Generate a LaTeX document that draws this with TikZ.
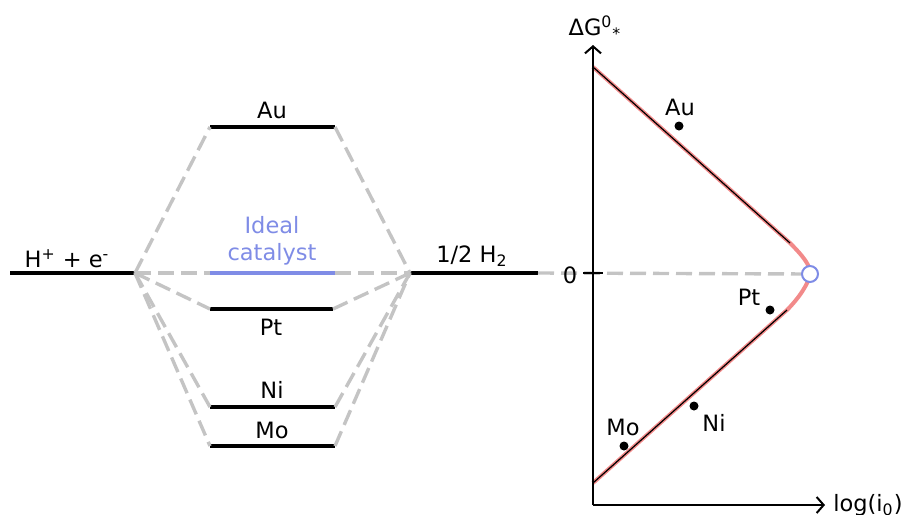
\documentclass[tikz,border=0pt]{standalone}
\usepackage{fontspec}
\setmainfont{DejaVu Sans}
\usetikzlibrary{arrows.meta}
\definecolor{linkgrey}{HTML}{C4C4C4}
\definecolor{idealblue}{HTML}{7F8CE6}
\definecolor{volcred}{HTML}{F28A8A}
\begin{document}
\begin{tikzpicture}[x=0.5pt,y=-0.5pt,>={Straight Barb[length=3.5pt,width=8pt]},
	every node/.style={font=\fontsize{11.25}{13.5}\selectfont,inner sep=0pt},
	level/.style={line width=2pt},
	link/.style={linkgrey,line width=1.7pt,dash pattern=on 8pt off 3.5pt},
	axis/.style={line width=1pt,->},
	dot/.style={circle,fill,inner sep=0pt,minimum size=4.5pt}]
	\useasboundingbox(0,0)rectangle(907,515);
	% energy levels
	\draw[level](10,273)coordinate(he-w)--(135,273)coordinate(hl);
	\node(hlab)[anchor=base]at(67,267){H\textsuperscript{+} + e\textsuperscript{-}};
	\draw[level](410,273)coordinate(hr)--(538,273)coordinate(h2-e);
	\node(h2lab)[anchor=base]at(472,262){1/2 H\textsubscript{2}};
	\foreach \n/\y/\e in {au/127/335,pt/309/333,ni/407/335,mo/446/335}
		\draw[level](210,\y)coordinate(\n-w)--(\e,\y)coordinate(\n-e);
	\draw[level,idealblue](210,273)coordinate(ideal-w)--(335,273)coordinate(ideal-e);
	\node(aulab)[anchor=base]at(272,118){Au};
	\node(idlab)[anchor=south,align=center,idealblue]at(272,266){Ideal\\catalyst};
	\node(ptlab)[anchor=base]at(271,335){Pt};
	\node(nilab)[anchor=base]at(272,398){Ni};
	\node(molab)[anchor=base]at(272,438){Mo};
	\foreach \n in {au,ideal,pt,ni,mo}
		\draw[link](hl)--(\n-w) (\n-e)--(hr);
	% volcano plot
	\coordinate(orig)at(593,505);
	\node(opt)[circle,minimum size=8pt]at(810,274){};
	\draw[link](h2-e)--(opt);
	\draw[line width=2pt,volcred](593,67)coordinate(top)--(790,243)coordinate(ka)
		.. controls(803,256)and(811,266) .. (810,274)
		.. controls(809,283)and(799,298) .. (787,310)coordinate(kb)--(593,483)coordinate(bot);
	\draw[line width=.6pt](top)--(ka) (kb)--(bot);
	\node[circle,draw=idealblue,line width=1pt,minimum size=8pt,fill=white]at(opt){};
	\draw[axis](orig)--(593,45)coordinate(yend);
	\draw[axis](orig)--(825,505)coordinate(xend);
	\draw[line width=1.2pt](583,273)--(603,273);
	\node(zlab)[anchor=base]at(570,283){0};
	\node(ylab)[anchor=base]at(595,35){ΔG\textsuperscript{0}\textsubscript{*}};
	\node(xlab)[anchor=base west]at(833,511){log(i\textsubscript{0})};
	\node(au)[dot]at(679,126){};
	\node[anchor=base]at(680,115){Au};
	\node(pt)[dot]at(770,310){};
	\node[anchor=base]at(749,305){Pt};
	\node(ni)[dot]at(694,406){};
	\node[anchor=base]at(714,431){Ni};
	\node(mo)[dot]at(624,446){};
	\node[anchor=base]at(623,435){Mo};
\end{tikzpicture}
\end{document}
